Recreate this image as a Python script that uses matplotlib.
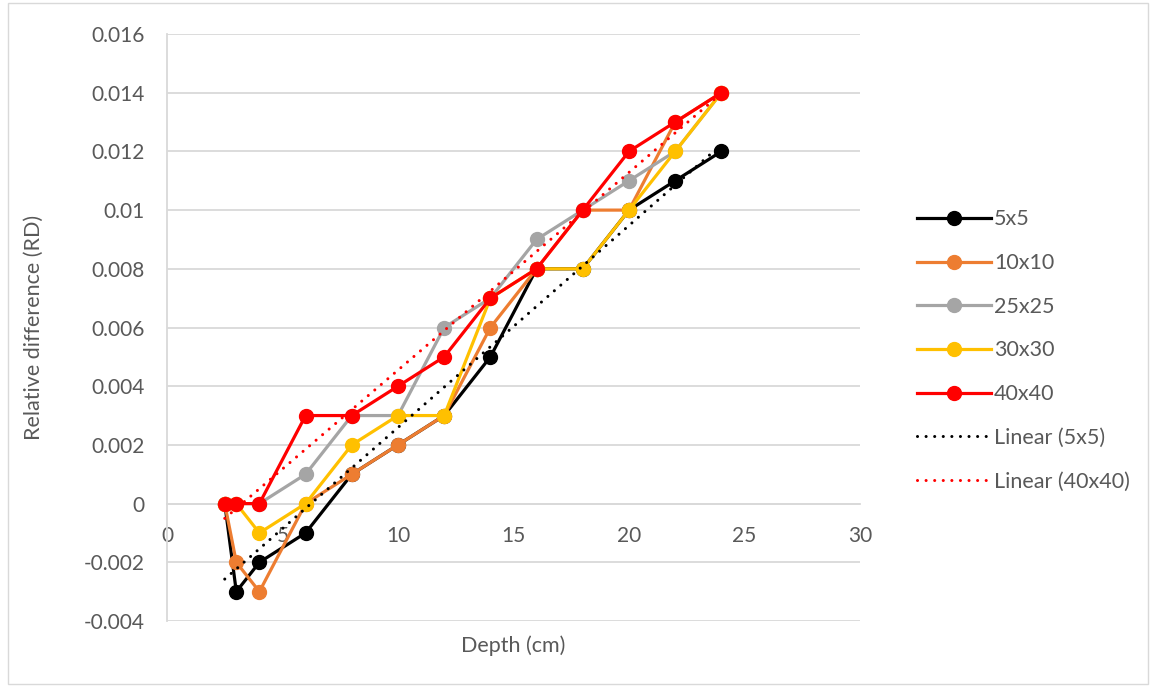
import numpy as np
import matplotlib
matplotlib.use('Agg')
import matplotlib.pyplot as plt
from matplotlib.patches import Rectangle

plt.rcParams['font.family'] = ['Lato', 'DejaVu Sans']

depth = [2.5, 3, 4, 6, 8, 10, 12, 14, 16, 18, 20, 22, 24]

rd_5x5 = [0, -0.003, -0.002, -0.001, 0.001, 0.002, 0.003, 0.005, 0.008, 0.008, 0.010, 0.011, 0.012]
rd_10x10 = [0, -0.002, -0.003, 0.000, 0.001, 0.002, 0.003, 0.006, 0.008, 0.010, 0.010, 0.013, 0.014]
rd_25x25 = [0, 0, 0, 0.001, 0.003, 0.003, 0.006, 0.007, 0.009, 0.010, 0.011, 0.012, 0.014]
rd_30x30 = [0, 0, -0.001, 0.000, 0.002, 0.003, 0.003, 0.007, 0.008, 0.008, 0.010, 0.012, 0.014]
rd_40x40 = [0, 0, 0, 0.003, 0.003, 0.004, 0.005, 0.007, 0.008, 0.010, 0.012, 0.013, 0.014]

series = [
    ('5x5', rd_5x5, '#000000'),
    ('10x10', rd_10x10, '#ED7D31'),
    ('25x25', rd_25x25, '#A5A5A5'),
    ('30x30', rd_30x30, '#FFC000'),
    ('40x40', rd_40x40, '#FF0000'),
]

xticks = [0, 5, 10, 15, 20, 25, 30]
yticks = [-0.004, -0.002, 0, 0.002, 0.004, 0.006, 0.008, 0.010, 0.012, 0.014, 0.016]
ytick_labels = ['-0.004', '-0.002', '0', '0.002', '0.004', '0.006', '0.008',
                '0.01', '0.012', '0.014', '0.016']

txt = '#595959'
grid = '#D9D9D9'

fig = plt.figure(figsize=(11.56, 6.87), dpi=100)
ax = fig.add_axes([167 / 1156, 1 - 621 / 687, (860 - 167) / 1156, (621 - 34) / 687])

x = np.array(depth)
for name, vals, col in series:
    ax.plot(x, vals, color=col, lw=2.3, marker='o', ms=10, label=name, zorder=3)

# linear trendlines
for name, vals, col in [('5x5', rd_5x5, '#000000'), ('40x40', rd_40x40, '#FF0000')]:
    k, b = np.polyfit(x, vals, 1)
    xs = np.array([x.min(), x.max()])
    ax.plot(xs, k * xs + b, color=col, lw=2.2, linestyle=(0, (0.01, 2.8)),
            dash_capstyle='round', label='Linear (%s)' % name, zorder=4)

ax.set_xlim(0, 30)
ax.set_ylim(-0.004, 0.016)
ax.set_xticks(xticks)
ax.set_xticklabels([str(t) for t in xticks])
ax.set_yticks(yticks)
ax.set_yticklabels(ytick_labels)

for yv in yticks:
    ax.axhline(yv, color=grid, lw=1.3, zorder=1)

for s in ['top', 'right']:
    ax.spines[s].set_visible(False)
ax.spines['bottom'].set_position(('data', 0))
ax.spines['bottom'].set_color(grid)
ax.spines['bottom'].set_linewidth(1.3)
ax.spines['left'].set_color(grid)
ax.spines['left'].set_linewidth(1.3)
ax.tick_params(length=0, labelsize=15, labelcolor=txt)
ax.tick_params(axis='x', pad=16)
ax.tick_params(axis='y', pad=16)

ax.set_xlabel('Depth (cm)', fontsize=15.5, color=txt)
ax.xaxis.set_label_coords(0.5, -0.025)
ax.set_ylabel('Relative difference (RD)', fontsize=15.5, color=txt)
ax.yaxis.set_label_coords(-0.178, 0.5)

leg = fig.legend(loc='upper left', bbox_to_anchor=(898 / 1156, 1 - 190 / 687), frameon=False,
                 fontsize=15.5, labelcolor=txt, handlelength=3.4, labelspacing=1.1,
                 handletextpad=0.15)

fig.patches.append(Rectangle((8 / 1156, 3 / 687), 1 - 16 / 1156, 1 - 6 / 687,
                             transform=fig.transFigure, fill=False, edgecolor=grid, lw=1))

fig.savefig('out.png', dpi=100)
